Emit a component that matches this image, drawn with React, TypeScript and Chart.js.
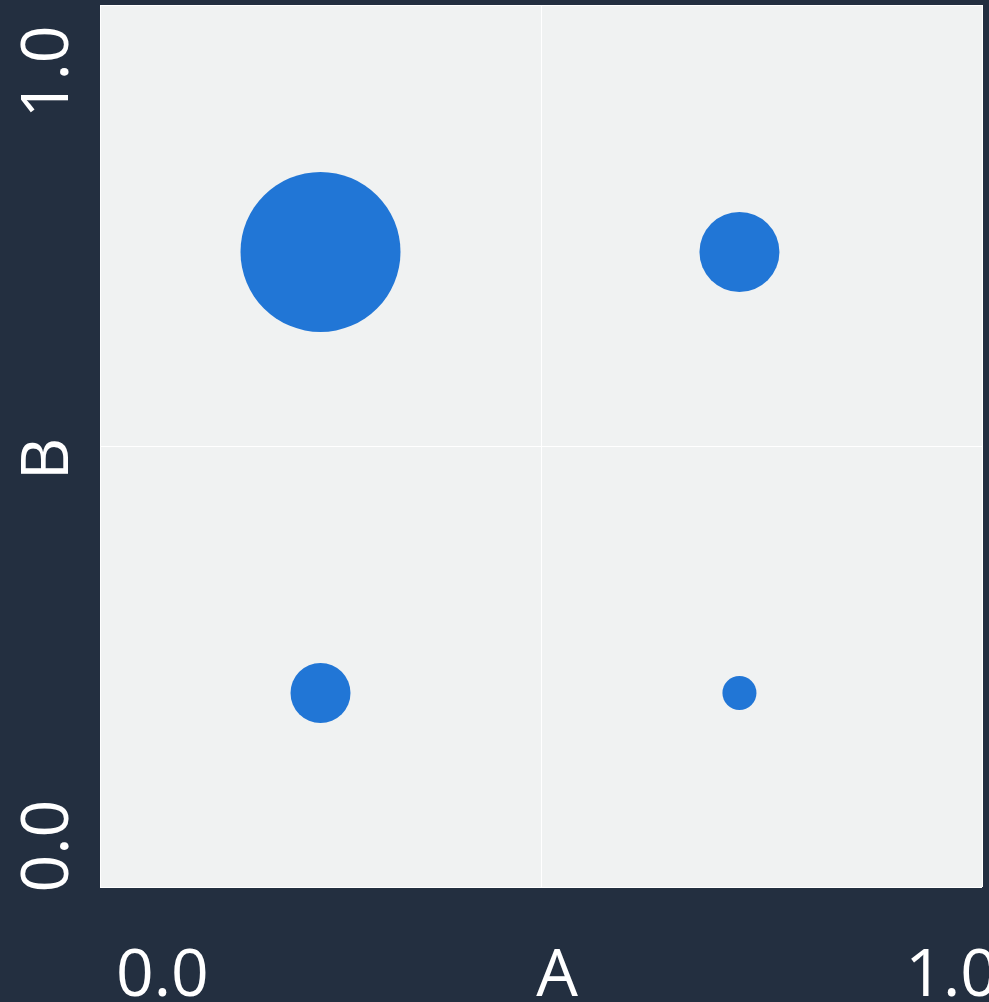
import React, { useEffect, useRef } from "react";
import { Chart, registerables } from "chart.js";

Chart.register(...registerables);

// ---- data ----
const cellX: number[] = [0.25, 0.725, 0.25, 0.725];
const cellY: number[] = [0.72, 0.72, 0.22, 0.22];
const cellCount: number[] = [64, 16, 9, 2.9];
const xTickValues: number[] = [0, 0.5, 1];
const xTickLabels: string[] = ["0.0", "A", "1.0"];
const yTickValues: number[] = [0, 0.5, 1];
const yTickLabels: string[] = ["0.0", "B", "1.0"];

const BG = "#232f40";
const PLOT_BG = "#f0f2f2";
const BUBBLE = "#2176d6";
const FONT = "'Open Sans', 'Noto Sans', sans-serif";
const Y_FLUSH_OFFSET = 7.5;

const plotBgPlugin = {
  id: "plotBg",
  beforeDraw(chart: any) {
    const { ctx, chartArea } = chart;
    if (!chartArea) return;
    ctx.save();
    ctx.fillStyle = PLOT_BG;
    ctx.fillRect(chartArea.left, chartArea.top, chartArea.right - chartArea.left, chartArea.bottom - chartArea.top);
    ctx.restore();
    // flush ("inner") alignment for the rotated y labels
    const ys = chart.scales.y;
    if (ys && ys.getLabelItems && !ys.__flushed) {
      const items = ys.getLabelItems();
      items.forEach((it: any, i: number) => {
        const last = items.length - 1;
        it.options.textAlign = i === 0 ? "left" : i === last ? "right" : "center";
        if (i === 0) it.options.translation[1] -= Y_FLUSH_OFFSET;
        if (i === last) it.options.translation[1] += Y_FLUSH_OFFSET;
      });
      ys.__flushed = true;
    }
  },
  afterDraw(chart: any) {
    if (chart.scales.y) chart.scales.y.__flushed = false;
  },
};

const noPad = (s: any) => {
  s.paddingTop = 0;
  s.paddingBottom = 0;
  s.paddingLeft = 0;
  s.paddingRight = 0;
};

export default function App() {
  const ref = useRef<HTMLCanvasElement | null>(null);

  useEffect(() => {
    if (!ref.current) return;
    Chart.defaults.font.family = FONT;
    const chart = new Chart(ref.current, {
      type: "bubble",
      data: {
        datasets: [
          {
            data: cellX.map((x, i) => ({ x, y: cellY[i], r: 10 * Math.sqrt(cellCount[i]) })),
            backgroundColor: BUBBLE,
            borderWidth: 0,
            hoverBorderWidth: 0,
          },
        ],
      },
      options: {
        responsive: false,
        animation: false,
        layout: { autoPadding: false, padding: { top: 5, right: 7, left: 0, bottom: 0 } },
        plugins: { legend: { display: false }, tooltip: { enabled: false } },
        scales: {
          x: {
            type: "linear",
            min: 0,
            max: 1,
            afterBuildTicks: (s: any) => {
              s.ticks = xTickValues.map((v) => ({ value: v }));
            },
            afterFit: (s: any) => {
              s.height = 115;
              noPad(s);
            },
            grid: { color: "#ffffff", lineWidth: 1, drawTicks: false },
            border: { display: false },
            ticks: {
              autoSkip: false,
              maxRotation: 0,
              align: "inner",
              labelOffset: 16,
              padding: 51,
              color: "#ffffff",
              font: { size: 66, family: FONT },
              callback: (_v: any, i: number) => xTickLabels[i],
            },
          },
          y: {
            type: "linear",
            min: 0,
            max: 1,
            afterBuildTicks: (s: any) => {
              s.ticks = yTickValues.map((v) => ({ value: v }));
            },
            afterFit: (s: any) => {
              s.width = 100;
              noPad(s);
            },
            grid: { color: "#ffffff", lineWidth: 1, drawTicks: false },
            border: { display: false },
            ticks: {
              autoSkip: false,
              minRotation: 90,
              maxRotation: 90,
              crossAlign: "center",
              labelOffset: 13,
              padding: 4,
              color: "#ffffff",
              font: { size: 66, family: FONT },
              callback: (_v: any, i: number) => yTickLabels[i],
            },
          },
        },
      },
      plugins: [plotBgPlugin],
    } as any);
    return () => chart.destroy();
  }, []);

  return (
    <div style={{ position: "absolute", left: 0, top: 0, width: 989, height: 1002, background: BG, overflow: "hidden" }}>
      <canvas ref={ref} width={989} height={1002} style={{ display: "block" }} />
    </div>
  );
}
